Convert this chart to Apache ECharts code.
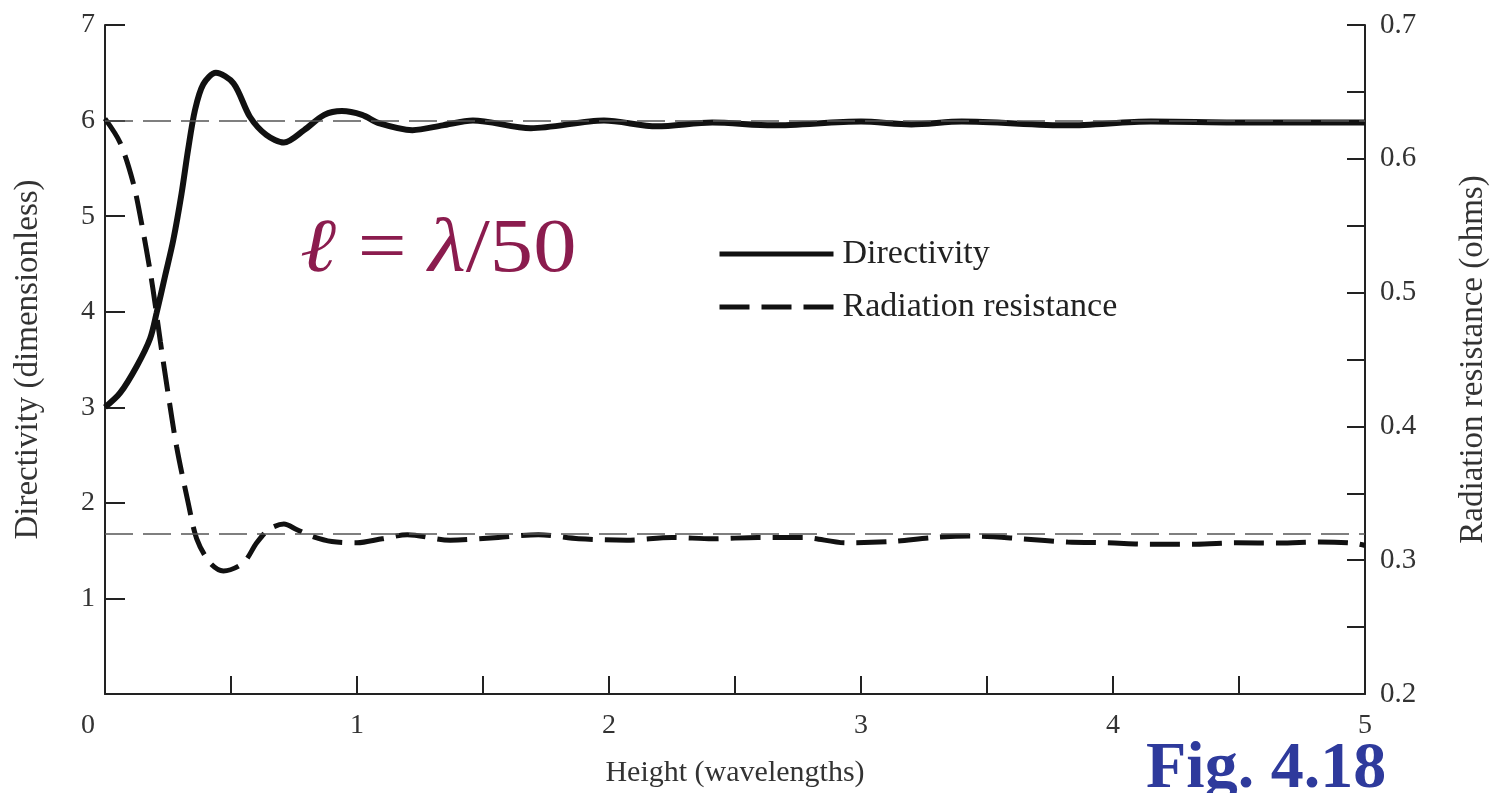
<!DOCTYPE html>
<html>
<head>
<meta charset="utf-8">
<title>Fig. 4.18</title>
<script src="https://cdn.jsdelivr.net/npm/echarts@6/dist/echarts.min.js"></script>
<style>
  html, body { margin: 0; padding: 0; background: #fff; }
  #chart { width: 1492px; height: 793px; }
</style>
</head>
<body>
<div id="chart"></div>
<script>
// heights (wavelengths) and directivity
const dirHeights = [0, 0.06, 0.126, 0.179, 0.205, 0.238, 0.271, 0.304, 0.33, 0.357, 0.39, 0.44, 0.51, 0.575, 0.64, 0.71, 0.79, 0.87, 0.94, 1.02, 1.09, 1.22, 1.34, 1.46, 1.69, 1.98, 2.19, 2.41, 2.65, 3.0, 3.2, 3.4, 3.82, 4.15, 4.5, 5.0];
const directivity = [3.0, 3.15, 3.43, 3.72, 3.99, 4.37, 4.75, 5.24, 5.7, 6.11, 6.38, 6.5, 6.39, 6.04, 5.85, 5.77, 5.9, 6.06, 6.1, 6.06, 5.97, 5.9, 5.95, 6.0, 5.92, 6.0, 5.94, 5.98, 5.95, 5.99, 5.96, 5.99, 5.95, 5.99, 5.98, 5.98];

// heights and radiation resistance (ohms)
const resHeights = [0, 0.06, 0.112, 0.145, 0.18, 0.2, 0.22, 0.25, 0.284, 0.33, 0.364, 0.417, 0.47, 0.549, 0.602, 0.65, 0.71, 0.76, 0.82, 0.9, 1.0, 1.1, 1.2, 1.37, 1.56, 1.72, 1.88, 2.07, 2.25, 2.41, 2.59, 2.77, 2.94, 3.12, 3.29, 3.44, 3.64, 3.82, 3.98, 4.15, 4.33, 4.49, 4.66, 4.82, 4.95, 5.0];
const resistance = [0.63, 0.612, 0.582, 0.552, 0.515, 0.49, 0.463, 0.425, 0.385, 0.343, 0.316, 0.298, 0.292, 0.298, 0.313, 0.323, 0.327, 0.323, 0.318, 0.314, 0.313, 0.316, 0.319, 0.315, 0.317, 0.319, 0.316, 0.315, 0.317, 0.316, 0.317, 0.317, 0.313, 0.314, 0.317, 0.318, 0.316, 0.3136, 0.313, 0.312, 0.312, 0.313, 0.3128, 0.3136, 0.3128, 0.311];

// asymptotes drawn as thin dashed guides
const dirAsymptote = 6;
const resAsymptote = 0.3168;

const seriesNames = ['Directivity', 'Radiation resistance'];

const serif = 'Liberation Serif';
const ink = '#111';
const labelColor = '#333';

let chart = echarts.init(document.getElementById('chart'));

function pairs(xs, ys) {
    return xs.map((x, i) => [x, ys[i]]);
}

const guideLine = { color: '#555', width: 1.5, type: [28, 10] };

let option = {
    animation: false,
    backgroundColor: '#fff',
    grid: { left: 105, right: 127, top: 25, bottom: 99, containLabel: false, outerBoundsMode: 'none' },
    legend: {
        orient: 'vertical',
        left: 712,
        top: 232,
        itemWidth: 114,
        itemHeight: 36,
        itemGap: 19,
        data: seriesNames,
        itemStyle: { opacity: 0 },
        lineStyle: { width: 5 },
        textStyle: { fontFamily: serif, fontSize: 34, color: '#222', padding: [0, 0, 0, 4] }
    },
    xAxis: {
        type: 'value',
        min: 0,
        max: 5,
        interval: 0.5,
        name: 'Height (wavelengths)',
        nameLocation: 'middle',
        nameGap: 64,
        nameTextStyle: { fontFamily: serif, fontSize: 30, color: labelColor },
        axisLine: { lineStyle: { color: '#222', width: 2 } },
        axisTick: { inside: true, length: 18, lineStyle: { color: '#222', width: 2 } },
        splitLine: { show: false },
        axisLabel: {
            fontFamily: serif, fontSize: 28, color: labelColor, margin: 18,
            formatter: function (v) {
                if (Math.round(v * 2) % 2 !== 0) return '';
                return v === 0 ? '{z|0}' : String(v);
            },
            rich: { z: { fontFamily: serif, fontSize: 28, color: labelColor, padding: [0, 34, 0, 0] } }
        }
    },
    yAxis: [
        {
            type: 'value',
            min: 0,
            max: 7,
            interval: 1,
            position: 'left',
            name: 'Directivity (dimensionless)',
            nameLocation: 'middle',
            nameGap: 60,
            nameTextStyle: { fontFamily: serif, fontSize: 33, color: labelColor },
            axisLine: { show: true, lineStyle: { color: '#222', width: 2 } },
            axisTick: { show: true, inside: true, length: 20, lineStyle: { color: '#222', width: 2 } },
            splitLine: { show: false },
            axisLabel: {
                fontFamily: serif, fontSize: 28, color: labelColor, margin: 10,
                formatter: v => v === 0 ? '' : String(v)
            }
        },
        {
            type: 'value',
            min: 0.2,
            max: 0.7,
            interval: 0.05,
            position: 'right',
            name: 'Radiation resistance (ohms)',
            nameLocation: 'middle',
            nameGap: 92,
            nameRotate: 90,
            nameTextStyle: { fontFamily: serif, fontSize: 33, color: labelColor },
            axisLine: { show: true, lineStyle: { color: '#222', width: 2 } },
            axisTick: { show: true, inside: true, length: 18, lineStyle: { color: '#222', width: 2 } },
            splitLine: { show: false },
            axisLabel: {
                fontFamily: serif, fontSize: 29, color: labelColor, margin: 15,
                formatter: v => Math.round(v * 20) % 2 === 0 ? v.toFixed(1) : ''
            }
        }
    ],
    series: [
        {
            name: seriesNames[0],
            type: 'line',
            yAxisIndex: 0,
            symbol: 'none',
            smooth: 0.3,
            lineStyle: { color: ink, width: 6 },
            itemStyle: { color: ink },
            data: pairs(dirHeights, directivity),
            markLine: {
                silent: true,
                symbol: 'none',
                label: { show: false },
                lineStyle: guideLine,
                data: [{ yAxis: dirAsymptote }]
            }
        },
        {
            name: seriesNames[1],
            type: 'line',
            yAxisIndex: 1,
            symbol: 'none',
            smooth: 0.3,
            lineStyle: { color: ink, width: 5, type: [30, 12] },
            itemStyle: { color: ink },
            data: pairs(resHeights, resistance),
            markLine: {
                silent: true,
                symbol: 'none',
                label: { show: false },
                lineStyle: guideLine,
                data: [{ yAxis: resAsymptote }]
            }
        }
    ],
    graphic: [
        {
            type: 'text',
            x: 300,
            y: 213,
            scaleX: 1.14,
            style: {
                text: '{i|ℓ}{n| = }{i|λ}{n|/50}',
                rich: {
                    i: { fontFamily: serif, fontStyle: 'italic', fontSize: 76, fill: '#8B1C4E' },
                    n: { fontFamily: serif, fontSize: 76, fill: '#8B1C4E' }
                }
            }
        },
        {
            type: 'text',
            left: 1146,
            top: 737,
            style: {
                text: 'Fig. 4.18',
                fontFamily: serif,
                fontWeight: 'bold',
                fontSize: 66,
                fill: '#2E3A9C'
            }
        }
    ]
};

chart.setOption(option);
</script>
</body>
</html>
